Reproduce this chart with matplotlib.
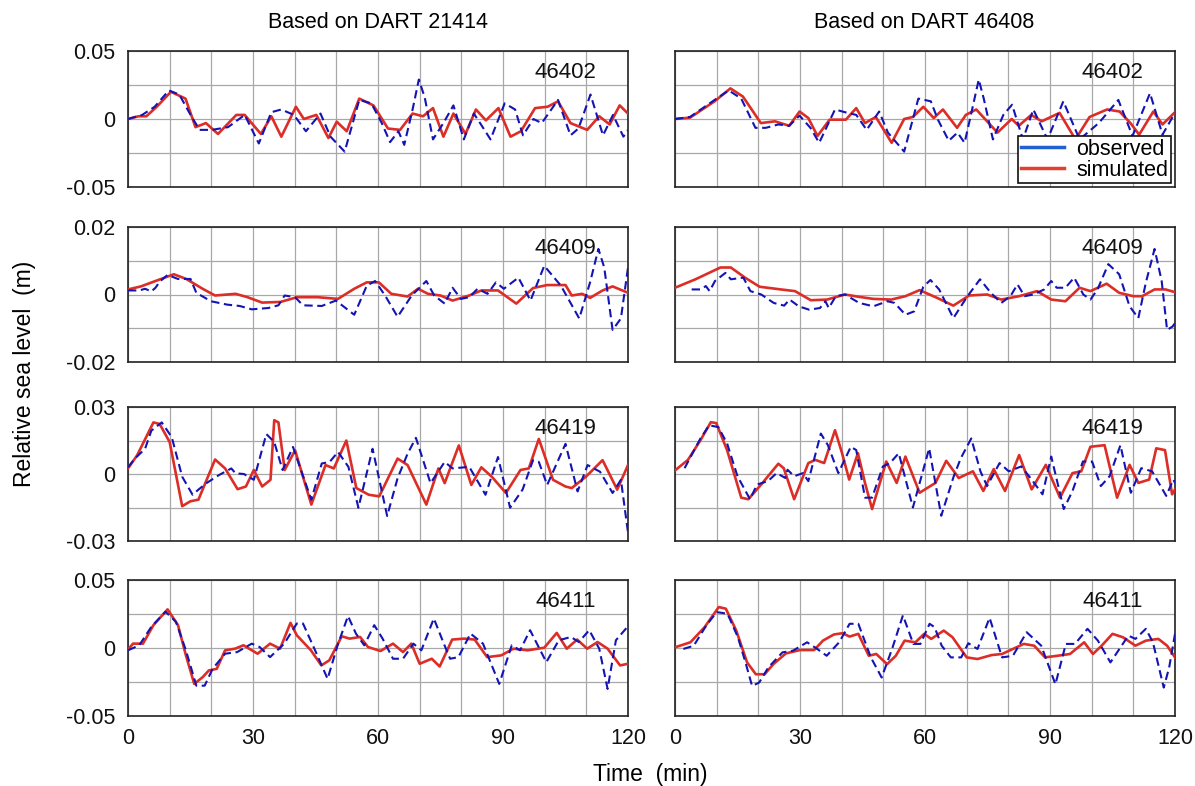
import matplotlib
matplotlib.use("Agg")
import matplotlib.pyplot as plt
from matplotlib.lines import Line2D

plt.rcParams['font.family'] = ['Liberation Sans', 'DejaVu Sans']

# ---- data (time in min, level in m) ----
stations = ["46402", "46409", "46419", "46411"]
columns = ["Based on DART 21414", "Based on DART 46408"]
ylims = [0.05, 0.02, 0.03, 0.05]
ylabels = [["0.05", "0", "-0.05"], ["0.02", "0", "-0.02"],
           ["0.03", "0", "-0.03"], ["0.05", "0", "-0.05"]]
xticks = [0, 30, 60, 90, 120]

# 46402, DART 21414
a1_obs_t = [0, 3.4, 6.4, 9.8, 12.3, 15.2, 17.2, 20.1, 24, 28, 31.4, 34.4, 36.8, 39.8, 42.7, 46.2, 48.6, 52, 55.5, 58.4,
            60.9, 62.9, 64.9, 66.3, 68.3, 69.8, 71.2, 73.2, 75.7, 78.1, 80.6, 83, 84.5, 87, 90.4, 92.9, 94.8, 97.3, 99.3,
            103.2, 106.2, 108.1, 111, 114, 116.4, 118.9, 120]
a1_obs = [0, .003, .009, .021, .018, .002, -.008, -.008, -.006, .003, -.018, .005, .007, .003, -.009, .004, -.013, -.024,
          .014, .0115, -.003, -.017, -.009, -.019, .007, .029, .016, -.015, -.003, .010, -.015, .004, -.003, -.015,
          .0115, .007, -.012, 0, -.003, .014, -.012, -.007, .018, -.012, .003, -.013, -.008]
a1_sim_t = [0, 2.5, 4.4, 6.9, 10.3, 13.8, 16.2, 18.7, 21.6, 26, 28, 31.9, 34.4, 36.8, 40.3, 42.2, 45.2, 48.1, 50.1, 52.5,
            55.5, 58.9, 62.4, 65.3, 68.3, 70.8, 73.2, 75.7, 78.1, 81, 83.5, 85.9, 88.9, 91.8, 94.3, 97.7, 100.7, 103.2,
            106.2, 110.2, 113.1, 115.6, 118, 120]
a1_sim = [0, .002, .002, .009, .020, .015, -.006, -.003, -.011, .003, .003, -.011, .002, -.013, .009, 0, .003, -.014,
          -.002, -.009, .015, .010, -.007, -.008, .004, .002, .008, -.013, .004, -.011, .007, -.001, .008, -.013, -.009,
          .008, .009, .013, -.003, -.008, .002, -.004, .010, .004]

# 46402, DART 46408
b1_obs_t = [0, 3.6, 9.5, 12.9, 15.9, 19.3, 21.8, 24.8, 27.4, 29.9, 32.5, 34.6, 38.4, 41.4, 43.5, 46, 49, 51.1, 55, 58.4,
            61.4, 63.1, 65.7, 67.8, 69.5, 71.2, 72.9, 74.1, 76.3, 78.8, 80.9, 83.5, 86, 89.4, 93.2, 97.1, 101.7,
            106.4, 109.8, 114, 117, 120]
b1_obs = [0, .0015, .014, .021, .015, -.0065, -.0065, -.004, -.005, .0025, -.0065, -.0175, .007, .0045, .003, -.008,
          .0055, -.010, -.024, .015, .013, -.0005, -.016, -.010, -.0175, .0055, .029, .015, -.015, .003, .0105, -.015,
          .007, -.015, .013, -.015, -.003, .014, -.0125, .019, -.0115, .0045]
b1_sim_t = [0, 3.6, 9.5, 13.3, 16.3, 20.6, 24, 27.4, 29.9, 32, 34.2, 37.1, 41, 43.5, 45.6, 48.2, 52, 55, 57.1, 59.6,
            62.1, 64.3, 67.7, 69.8, 72.3, 74.9, 77.4, 80.8, 82.5, 85.5, 88, 92.3, 96.1, 99.5, 103.7, 106.7, 109.3,
            111.4, 114.8, 117, 120]
b1_sim = [0, .001, .013, .0225, .0165, -.003, -.0017, -.005, .0055, .0007, -.0125, -.0005, -.0005, .008, -.003, .0015,
          -.0175, 0, .0015, .009, .0007, .007, -.0065, .003, .007, -.0017, -.010, 0, -.005, .003, -.0017, .0045, -.015,
          .0015, .007, .0055, -.003, -.0115, .0055, -.004, .005]

# 46409, DART 21414
a2_obs_t = [0, 2.7, 4.1, 5.6, 6.6, 7.6, 9.5, 12, 15, 16.4, 19.9, 23.8, 26.8, 29.7, 33.7, 36.1, 37.6, 40.1, 42, 46.5,
            49.9, 54.3, 57.3, 59.3, 61.7, 64.7, 68.1, 71.6, 73.5, 76, 77.9, 79.9, 81.9, 83.9, 86.3, 88.3, 90.2, 93.7,
            96.6, 99.9, 103.9, 108.3, 110.9, 112.9, 114.3, 116.3, 118.3, 120]
a2_obs = [.0012, .0012, .0017, .0009, .002, .0038, .0058, .0046, .0046, .0005, -.002, -.003, -.0034, -.0044, -.004,
          -.0032, -.0003, -.0008, -.0032, -.0034, -.0018, -.006, .0026, .004, -.0003, -.0066, -.0003, .004, -.0003,
          -.0027, .002, -.0013, -.0008, .0017, .0002, .0036, .0017, .005, -.0018, .0085, .0026, -.0071, .0036, .0135,
          .008, -.0105, -.0071, .008]
a2_sim_t = [0, 3.1, 6.6, 11, 14, 17.9, 20.9, 25.8, 28.7, 32.2, 36.6, 40.6, 45.5, 50.4, 54.3, 57.3, 60.2, 63.2, 67.1,
            69.6, 72, 75, 77.9, 81.9, 84.8, 88.8, 93.2, 97.2, 100.6, 105, 106.5, 109, 110.9, 113.9, 116.3, 120]
a2_sim = [.0015, .0024, .004, .006, .0046, .0017, -.0003, .0002, -.0008, -.0024, -.0022, -.0008, -.0008, -.0013, .0017,
          .0036, .0036, .0002, -.0006, .0017, .0002, -.0003, -.0018, -.0003, .0012, .0012, -.0027, .0019, .0028, .0028,
          -.0003, .0002, -.001, .0012, .0024, .0005]

# 46409, DART 46408
b2_obs_t = [4, 6.2, 7.4, 8.3, 9.6, 12.1, 13.4, 16.4, 18.1, 20.7, 23.7, 26.2, 27.5, 29.7, 32.2, 34.8, 36.1, 36.9, 38.6,
            40.8, 44.2, 47.6, 51, 52.7, 55.3, 57.4, 59.6, 61.3, 63.4, 66.8, 70.2, 73.2, 75.8, 78.3, 80.5, 82.2, 83.9,
            86, 88.6, 90.3, 91.6, 93.7, 95.8, 98, 99.7, 101.4, 104, 106.6, 109.1, 111.2, 113, 115.1, 116.8, 118.1,
            119.4, 120]
b2_obs = [.0015, .0015, .0025, .001, .004, .0064, .0045, .005, .001, 0, -.0025, -.0033, -.0015, -.0035, -.0045, -.004,
          -.002, -.004, -.0005, 0, -.0025, -.0035, -.002, -.0025, -.006, -.005, .0023, .0043, .0015, -.007, -.0005,
          .0045, .0005, -.0025, -.0005, .003, -.0005, 0, .0015, .004, .002, .002, .005, 0, -.0015, .0015, .009, .006,
          -.0035, -.007, .0035, .0135, .004, -.0105, -.0095, -.0085]
b2_sim_t = [0, 4.9, 10.9, 13.4, 16.8, 20.3, 25.4, 28.8, 32.6, 36.5, 40.8, 44.2, 47.6, 51.9, 55.3, 58.7, 62.9, 66.8,
            70.6, 74.9, 78.3, 82.6, 86.9, 90.3, 93.7, 97.1, 99.7, 103.6, 106.6, 110, 112.1, 115.1, 117.7, 120]
b2_sim = [.002, .0045, .008, .008, .005, .0023, .0015, .001, -.0017, -.0015, 0, -.0007, -.0013, -.0015, -.0005, .0013,
          -.001, -.0033, -.0003, 0, -.0015, -.0005, .001, -.0015, -.002, .002, .001, .0032, .0005, -.0005, -.0005,
          .0015, .0015, .0007]

# 46419, DART 21414
a3_obs_t = [0, 1.7, 4.1, 5.6, 8.1, 10.5, 13, 15.5, 16.9, 18.9, 21.9, 24.8, 25.8, 27.8, 30.2, 33.2, 35.1, 37.1, 39.6,
            41.5, 44, 46.5, 48.4, 50.4, 52.9, 55.3, 58.7, 62.2, 64.7, 67.1, 69.1, 72.6, 76, 77.9, 81.9, 85.8, 88.8,
            91.7, 94.7, 97.2, 98.6, 100.6, 105, 107.9, 110.3, 113.3, 116.3, 118.3, 120]
a3_obs = [.003, .007, .0113, .0194, .0231, .0165, -.0012, -.0093, -.007, -.004, -.0004, .0025, .0003, 0, -.0026, .0179,
          .0143, .0018, .0121, .0018, -.0115, .0047, .0054, .0099, .0032, -.0151, .0113, -.0188, -.0019, .0091, .0162,
          -.0041, .0054, .0025, .0032, -.0093, .0076, -.0151, -.007, .0062, .0054, -.0049, .0135, -.0078, .004, .001,
          -.0085, -.0026, -.0262]
a3_sim_t = [0, 2.2, 6.1, 7.6, 10, 13, 15, 16.9, 20.9, 23.3, 26.3, 28.3, 30.2, 32.2, 34.2, 35.1, 36.1, 37.6, 40.1, 44,
            47.4, 49.4, 52.4, 54.8, 57.8, 60.3, 64.7, 67.1, 71.6, 74.5, 76, 79.4, 82.4, 84.8, 87.3, 90.7, 94.2, 96.2,
            98.6, 102, 105, 106.5, 109.9, 113.9, 117.4, 120]
a3_sim = [.0025, .0084, .0231, .0224, .0143, -.0144, -.0122, -.0115, .0065, .0025, -.0068, -.0056, .0018, -.0056,
          -.0026, .0241, .0231, .0018, .0106, -.0137, .004, .0025, .015, -.0063, -.0093, -.01, .0069, .004, -.0137,
          .0025, -.0041, .0128, -.0049, .003, -.0012, -.0085, .0018, .0025, .0157, -.0026, -.0056, -.0063, -.0012,
          .0062, -.007, .004]

# 46419, DART 46408
b3_obs_t = [2.3, 6.1, 8.2, 10.4, 12.5, 15, 18, 19.7, 22.3, 24.4, 26.5, 27, 28.6, 30.7, 32, 35, 36.7, 39.2, 42.2, 43.5,
            45.6, 47.3, 49.9, 51.6, 53.7, 57.1, 61, 63.9, 66.9, 68.6, 71.1, 73.3, 74.9, 77.9, 80.1, 83.1, 85.6, 88.2,
            90.3, 93.3, 95.4, 97.9, 100.1, 102.2, 104.3, 106.9, 109.4, 111.9, 114.5, 117.9, 119.6, 120]
b3_obs = [.0026, .0159, .0218, .021, .0137, -.001, -.0113, -.0047, -.0032, .0004, -.0018, .0019, -.001, .0004, -.0032,
          .0181, .0129, .0004, .0122, .0107, -.0106, -.0106, .0034, .0049, .0093, -.015, .0115, -.0187, -.001, .0071,
          .0159, .0012, -.0054, .0049, .0012, .0034, -.0025, -.0091, .0078, -.0157, -.0076, .0056, .0056, -.0054,
          -.001, .0129, -.0084, .0026, .0012, -.0098, -.0025, -.004]
b3_sim_t = [0, 3.1, 6.1, 8.6, 9.9, 12.5, 15.9, 17.6, 21, 24.8, 26.1, 28.6, 32, 33.7, 35.8, 38.4, 40.1, 41.8, 43.9,
            45.6, 47.3, 50.7, 53.2, 55.3, 58.7, 62.5, 65.1, 68.1, 71.5, 74, 76.5, 79.2, 82.6, 85.6, 89, 92.4, 95.4,
            97.5, 99.7, 103.1, 106.1, 109.1, 111.2, 113.8, 115.5, 117.6, 119.3, 120]
b3_sim = [.0016, .0063, .0151, .0232, .0228, .0107, -.0106, -.0113, -.004, .0046, .0026, -.0113, .0049, .0063, .0049,
          .0196, .0093, -.0025, .0093, -.004, -.0157, .0056, -.004, .0078, -.0084, -.004, .0059, -.0018, .0012, -.0076,
          .0022, -.0076, .0085, -.0069, .0041, -.0106, .0004, .0012, .0122, .0129, -.0106, .0041, -.004, -.0025,
          .0115, .0107, -.0091, -.0069]

# 46411, DART 21414
a4_obs_t = [0, 2.7, 5.6, 9, 11.5, 13.9, 16.4, 18.4, 20.3, 23.3, 26.2, 29.7, 31.6, 34.1, 37.5, 40.5, 42, 44.9, 47.9,
            50.3, 52.8, 54.7, 56.7, 59.1, 61.1, 63.6, 66, 68.5, 70.4, 73.4, 75.8, 77.3, 79.3, 82.2, 85.2, 89.1, 92.1,
            94.1, 96.5, 100.4, 103.4, 106.3, 108.2, 110.7, 113.1, 115.1, 117.1, 120]
a4_obs = [-.0017, .002, .0156, .0267, .0193, -.0017, -.0277, -.0277, -.0153, -.0042, -.003, .0032, .0007, -.0067,
          .0032, .018, .018, -.0017, -.0227, .002, .0235, .0106, .002, .0168, .0069, -.0079, -.0079, .0032, -.0017,
          .0217, .0032, -.0079, -.0067, .0106, .0032, -.0264, .002, -.0017, .0131, -.0104, .0057, .0081, .0044, .0131,
          -.0005, -.0301, .0057, .016]
a4_sim_t = [0, 1.2, 3.6, 6.1, 9.5, 12, 13.9, 15.9, 17.9, 19.4, 21.3, 23.3, 25.7, 27.7, 31.1, 34.1, 36.5, 39, 40.5,
            43.9, 46.4, 48.3, 51.3, 53.2, 55.7, 57.6, 60.6, 63.6, 66, 68, 70, 72.9, 74.8, 77.8, 80.7, 83.2, 86.2, 89.6,
            92.5, 95.9, 99.9, 102.9, 105.3, 107.8, 110.2, 112.7, 115.1, 118.1, 120]
a4_sim = [-.0012, .0032, .0032, .0168, .0284, .0168, -.0054, -.0264, -.0215, -.0165, -.0153, -.0017, -.0005, .002,
          -.0042, .0032, -.0005, .0185, .0094, -.0017, -.0128, -.0091, .0086, .0069, .0081, .0007, -.0022, .0032,
          -.003, .0032, -.0116, -.0079, -.0136, .0062, .0069, .0062, -.0067, -.0054, -.0005, -.0017, .0002, .0111,
          -.0005, .0062, -.0005, .0044, -.0005, -.0128, -.0116]

# 46411, DART 46408
b4_obs_t = [2, 4.5, 7.5, 10, 12.6, 15.1, 16.8, 18.5, 20.2, 22.4, 25.8, 28.3, 31.7, 33.8, 36.4, 39.4, 41.9, 44, 47,
            49.6, 52.1, 54.7, 57.2, 58.9, 61.1, 62.3, 64, 66.2, 68.7, 70.4, 72.6, 75.5, 78.5, 81.1, 84.4, 87.9, 91.3,
            93.8, 96, 99, 101.5, 104.5, 108.8, 110.5, 113, 114.7, 117.3, 118.6, 120]
b4_obs = [-.0007, .0017, .0165, .0264, .0252, .0079, -.0094, -.0279, -.0254, -.0143, -.0032, -.002, .0042, 0, -.0057,
          .0042, .0178, .0178, -.0069, -.0217, -.0007, .024, .003, .003, .0178, .0153, .0017, -.0069, -.0069, .0035,
          -.0007, .0222, -.0069, -.0057, .0116, .0017, -.0267, .003, .003, .0141, .0054, -.0106, .0091, .0067, .0141,
          .0042, -.0291, -.0143, .0104]
b4_sim_t = [0, 3.7, 7.1, 10.5, 12.2, 14.7, 17.3, 19.4, 21.5, 23.6, 26.6, 30, 33.4, 35.5, 38.1, 40.2, 41.9, 44, 46.5,
            48.3, 50.9, 53, 55.1, 57.7, 59.8, 61.5, 64.5, 66.6, 70, 72.6, 76, 78.5, 81.1, 83.7, 86.2, 88.8, 91.8, 94.8,
            98.2, 100.3, 102.4, 105, 107.5, 110.5, 113, 116, 118.1, 120]
b4_sim = [.0005, .0042, .0153, .0301, .0289, .0128, -.0106, -.0193, -.0193, -.0119, -.004, -.0015, -.0015, .0054,
          .0099, .0109, .0084, .0104, -.0057, -.0044, -.0119, -.0057, .0054, .0042, .0104, .0067, .0128, .0079, -.0069,
          -.0081, -.0052, -.0044, -.0007, .003, .0017, -.0069, -.0057, -.0044, .0042, -.0044, .0017, .0104, .0079,
          .0017, .0054, .0067, .0017, -.0069]

panels = [
    [(a1_obs_t, a1_obs, a1_sim_t, a1_sim), (b1_obs_t, b1_obs, b1_sim_t, b1_sim)],
    [(a2_obs_t, a2_obs, a2_sim_t, a2_sim), (b2_obs_t, b2_obs, b2_sim_t, b2_sim)],
    [(a3_obs_t, a3_obs, a3_sim_t, a3_sim), (b3_obs_t, b3_obs, b3_sim_t, b3_sim)],
    [(a4_obs_t, a4_obs, a4_sim_t, a4_sim), (b4_obs_t, b4_obs, b4_sim_t, b4_sim)],
]

blue = '#1414b4'
red = '#dc2d26'

fig = plt.figure(figsize=(11.95, 7.86), dpi=100)

col_left = [128 / 1195, 675 / 1195]
width = 500 / 1195
row_top = [51, 227, 407, 580]
row_h = [136, 135, 134, 136]

for r in range(4):
    for c in range(2):
        bottom = 1 - (row_top[r] + row_h[r]) / 786
        ax = fig.add_axes([col_left[c], bottom, width, row_h[r] / 786])
        ot, ov, st, sv = panels[r][c]
        ax.plot(st, sv, color=red, lw=1.9, zorder=3, solid_joinstyle='round')
        ax.plot(ot, ov, color=blue, lw=1.5, ls=(0, (4, 2.2)), zorder=4)

        lim = ylims[r]
        ax.set_xlim(0, 120)
        ax.set_ylim(-lim, lim)
        ax.set_xticks(range(0, 121, 10))
        ax.set_yticks([-lim, -lim / 2, 0, lim / 2, lim])
        ax.grid(True, color='#a8a8a8', lw=0.9)
        ax.tick_params(length=0, labelsize=15.5, colors='#111111', pad=9)

        if c == 0:
            top, mid, bot = ylabels[r]
            ax.set_yticklabels([bot, '', mid, '', top])
        else:
            ax.set_yticklabels([])
        if r == 3:
            ax.set_xticklabels([str(v) if v in xticks else '' for v in range(0, 121, 10)])
        else:
            ax.set_xticklabels([])

        for s in ax.spines.values():
            s.set_color('#222222')
            s.set_linewidth(1.2)

        ax.text(0.875, 0.84, stations[r], transform=ax.transAxes, ha='center', va='center',
                fontsize=16, color='#111111', zorder=5)

        if r == 0 and c == 1:
            handles = [Line2D([], [], color='#2060d0', lw=2.5),
                       Line2D([], [], color='#e04030', lw=2.5)]
            leg = ax.legend(handles, ['observed', 'simulated'], loc='lower right', fontsize=15.5,
                            frameon=True, fancybox=False, edgecolor='#111111', framealpha=1,
                            borderaxespad=0.2, borderpad=0.1, labelspacing=0.0,
                            handlelength=2.0, handletextpad=0.6)
            leg.get_frame().set_linewidth(1.2)
            leg.set_zorder(10)

fig.text(378 / 1195, 1 - 23 / 786, columns[0], ha='center', va='center', fontsize=15.5)
fig.text(924 / 1195, 1 - 23 / 786, columns[1], ha='center', va='center', fontsize=15.5)
fig.text(25 / 1195, 1 - 374 / 786, 'Relative sea level  (m)', rotation=90, ha='center', va='center', fontsize=16.5)
fig.text(650 / 1195, 1 - 775 / 786, 'Time  (min)', ha='center', va='center', fontsize=16.5)

fig.savefig('out.png', dpi=100, facecolor='white')
